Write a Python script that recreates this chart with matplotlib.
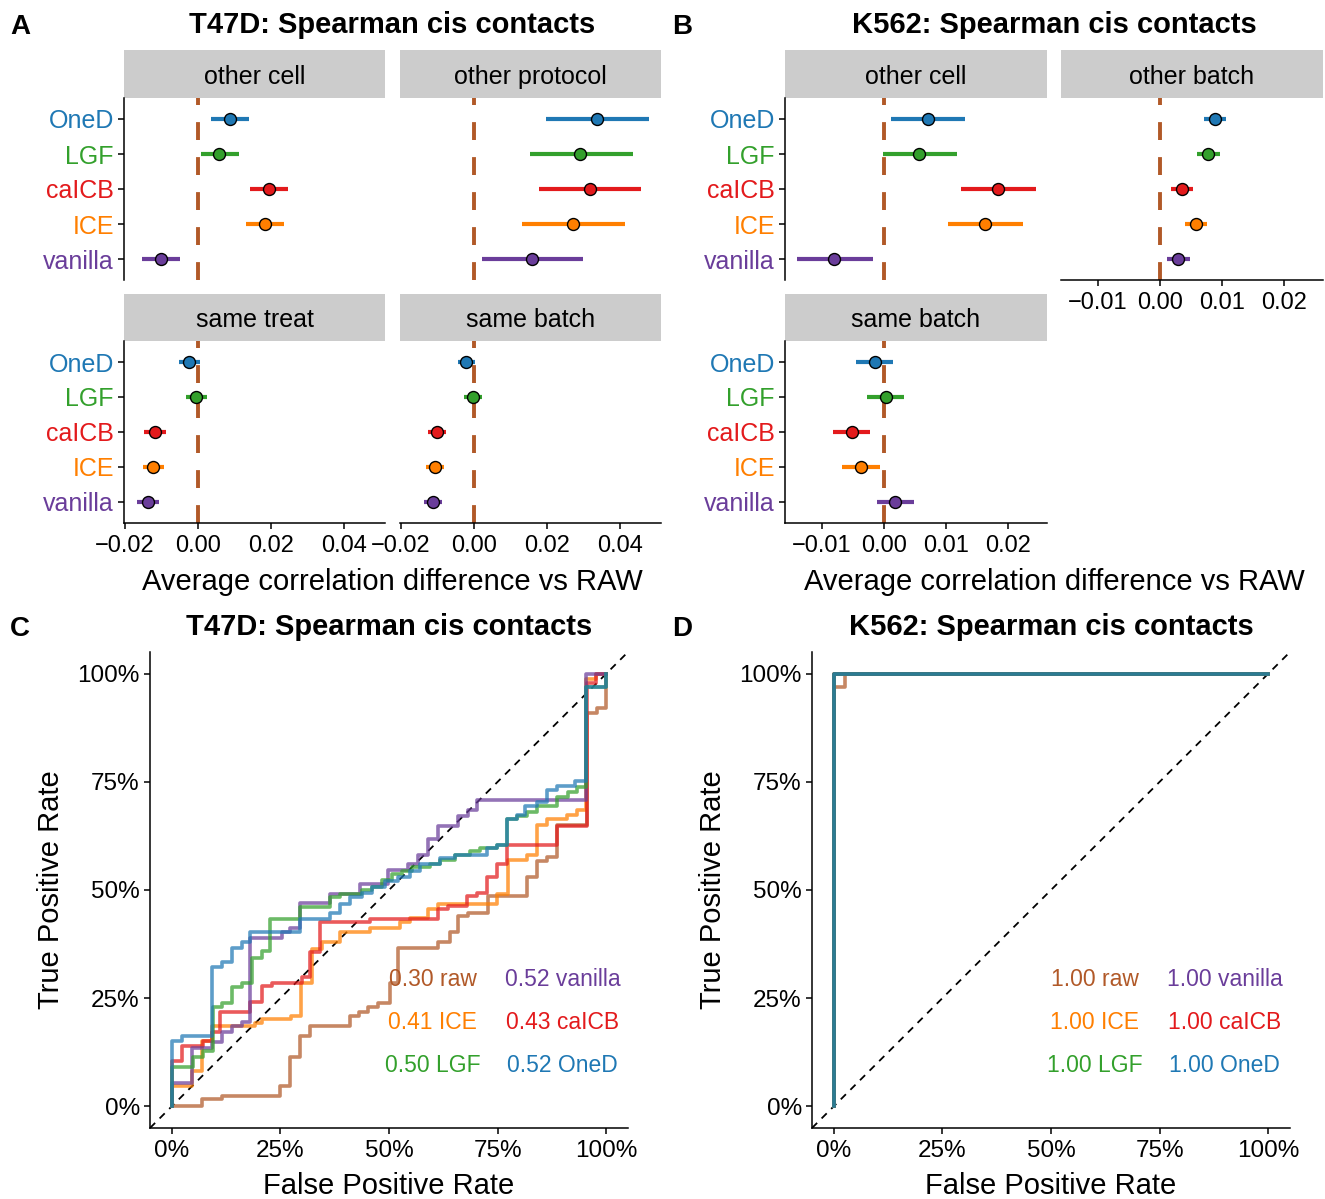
import matplotlib
matplotlib.use('Agg')
import matplotlib.pyplot as plt

plt.rcParams['font.family'] = ['Liberation Sans', 'DejaVu Sans']
plt.rcParams['axes.unicode_minus'] = True

W, H = 1325, 1199
fig = plt.figure(figsize=(W / 100, H / 100), dpi=100)

# ---------------- data ----------------
methods = ['OneD', 'LGF', 'caICB', 'ICE', 'vanilla']   # top -> bottom
method_colors = ['#1F78B4', '#33A02C', '#E31A1C', '#FF7F00', '#6A3D9A']
raw_color = '#B15928'

# Panel A (T47D)
A_other_cell_mean = [0.0088, 0.0058, 0.0195, 0.0184, -0.0101]
A_other_cell_lo = [0.0036, 0.0008, 0.0142, 0.0132, -0.0153]
A_other_cell_hi = [0.0140, 0.0112, 0.0247, 0.0236, -0.0049]

A_other_protocol_mean = [0.0337, 0.0290, 0.0318, 0.0271, 0.0159]
A_other_protocol_lo = [0.0197, 0.0153, 0.0178, 0.0132, 0.0022]
A_other_protocol_hi = [0.0479, 0.0436, 0.0458, 0.0414, 0.0299]

A_same_treat_mean = [-0.0025, -0.0005, -0.0118, -0.0123, -0.0137]
A_same_treat_lo = [-0.0052, -0.0032, -0.0147, -0.0152, -0.0168]
A_same_treat_hi = [0.0005, 0.0025, -0.0087, -0.0092, -0.0106]

A_same_batch_mean = [-0.0022, -0.0003, -0.0101, -0.0107, -0.0112]
A_same_batch_lo = [-0.0045, -0.0027, -0.0125, -0.0131, -0.0136]
A_same_batch_hi = [0.0002, 0.0021, -0.0077, -0.0083, -0.0088]

# Panel B (K562)
B_other_cell_mean = [0.0071, 0.0056, 0.0184, 0.0163, -0.0081]
B_other_cell_lo = [0.0011, -0.0002, 0.0124, 0.0103, -0.0140]
B_other_cell_hi = [0.0131, 0.0118, 0.0245, 0.0224, -0.0018]

B_other_batch_mean = [0.0089, 0.0077, 0.0035, 0.0058, 0.0029]
B_other_batch_lo = [0.0071, 0.0059, 0.0017, 0.0040, 0.0011]
B_other_batch_hi = [0.0107, 0.0096, 0.0054, 0.0076, 0.0049]

B_same_batch_mean = [-0.0015, 0.0003, -0.0052, -0.0037, 0.0018]
B_same_batch_lo = [-0.0045, -0.0027, -0.0082, -0.0067, -0.0012]
B_same_batch_hi = [0.0015, 0.0033, -0.0022, -0.0006, 0.0048]

A_xticks = [-0.02, 0.00, 0.02, 0.04]
B_xticks = [-0.01, 0.00, 0.01, 0.02]

# Panel C (T47D ROC) - step curves (FPR, TPR)
C_raw_fpr = [0, 0.069, 0.115, 0.249, 0.272, 0.295, 0.318, 0.410, 0.431, 0.452, 0.475, 0.502, 0.521,
             0.613, 0.641, 0.659, 0.682, 0.728, 0.818, 0.841, 0.864, 0.887, 0.956, 0.979, 1.0]
C_raw_tpr = [0, 0.016, 0.025, 0.048, 0.113, 0.162, 0.185, 0.208, 0.219, 0.229, 0.240, 0.286, 0.367,
             0.379, 0.402, 0.439, 0.448, 0.485, 0.531, 0.566, 0.577, 0.651, 0.910, 0.921, 1.0]

C_ICE_fpr = [0, 0, 0.046, 0.069, 0.092, 0.191, 0.207, 0.274, 0.297, 0.323, 0.346, 0.387, 0.456, 0.525,
             0.548, 0.590, 0.613, 0.749, 0.774, 0.818, 0.841, 0.864, 0.910, 0.933, 0.954, 0.977, 1.0]
C_ICE_tpr = [0, 0.046, 0.081, 0.150, 0.185, 0.192, 0.201, 0.208, 0.286, 0.363, 0.379, 0.402, 0.413, 0.425,
             0.436, 0.455, 0.467, 0.490, 0.570, 0.582, 0.651, 0.663, 0.674, 0.686, 0.988, 1.0, 1.0]

C_caICB_fpr = [0, 0, 0.023, 0.071, 0.092, 0.111, 0.180, 0.207, 0.230, 0.300, 0.318, 0.341, 0.456, 0.613,
               0.636, 0.680, 0.703, 0.726, 0.749, 0.772, 0.887, 0.956, 0.977, 1.0]
C_caICB_tpr = [0, 0.104, 0.139, 0.150, 0.171, 0.217, 0.242, 0.277, 0.286, 0.298, 0.356, 0.425, 0.432, 0.455,
               0.462, 0.485, 0.494, 0.531, 0.559, 0.605, 0.647, 0.979, 1.0, 1.0]

C_LGF_fpr = [0, 0, 0.048, 0.071, 0.094, 0.115, 0.138, 0.161, 0.184, 0.207, 0.226, 0.295, 0.364, 0.387,
             0.438, 0.461, 0.484, 0.507, 0.530, 0.553, 0.594, 0.618, 0.652, 0.687, 0.710, 0.749, 0.772,
             0.795, 0.818, 0.841, 0.887, 0.912, 0.933, 0.954, 1.0]
C_LGF_tpr = [0, 0.092, 0.115, 0.127, 0.229, 0.240, 0.275, 0.286, 0.344, 0.358, 0.434, 0.460, 0.483, 0.490,
             0.501, 0.508, 0.524, 0.536, 0.543, 0.552, 0.559, 0.570, 0.582, 0.589, 0.598, 0.605, 0.663,
             0.672, 0.681, 0.693, 0.716, 0.727, 0.739, 0.968, 1.0]

C_vanilla_fpr = [0, 0, 0.046, 0.092, 0.115, 0.138, 0.161, 0.180, 0.253, 0.272, 0.295, 0.364, 0.433, 0.498,
                 0.544, 0.567, 0.590, 0.613, 0.659, 0.682, 0.703, 0.954, 1.0]
C_vanilla_tpr = [0, 0.055, 0.136, 0.148, 0.171, 0.185, 0.194, 0.390, 0.402, 0.413, 0.471, 0.490, 0.513, 0.547,
                 0.559, 0.582, 0.617, 0.649, 0.672, 0.686, 0.709, 1.0, 1.0]

C_OneD_fpr = [0, 0, 0.023, 0.092, 0.115, 0.138, 0.161, 0.180, 0.295, 0.364, 0.387, 0.410, 0.438, 0.461,
              0.491, 0.521, 0.548, 0.571, 0.618, 0.652, 0.726, 0.749, 0.772, 0.795, 0.813, 0.841, 0.864,
              0.887, 0.929, 0.954, 1.0]
C_OneD_tpr = [0, 0.150, 0.162, 0.321, 0.333, 0.367, 0.379, 0.402, 0.432, 0.448, 0.467, 0.483, 0.494, 0.508,
              0.520, 0.531, 0.543, 0.561, 0.575, 0.582, 0.596, 0.605, 0.663, 0.674, 0.693, 0.704, 0.732,
              0.741, 0.753, 0.968, 1.0]

# Panel D (K562 ROC)
D_raw_fpr = [0, 0, 0.025, 1.0]
D_raw_tpr = [0, 0.97, 1.0, 1.0]
D_method_fpr = [0, 0, 1.0]
D_method_tpr = [0, 1.0, 1.0]

auc_labels = ['raw', 'vanilla', 'ICE', 'caICB', 'LGF', 'OneD']
auc_colors = [raw_color, '#6A3D9A', '#FF7F00', '#E31A1C', '#33A02C', '#1F78B4']
C_auc = [0.30, 0.52, 0.41, 0.43, 0.50, 0.52]
D_auc = [1.00, 1.00, 1.00, 1.00, 1.00, 1.00]

roc_ticks = [0, 0.25, 0.5, 0.75, 1.0]
roc_ticklabels = ['0%', '25%', '50%', '75%', '100%']

# ---------------- helpers ----------------
STRIP = '#CCCCCC'
TICK_FS = 17
SPINE_LW = 1.1


def add_ax(l, t, r, b):
    return fig.add_axes([l / W, 1 - b / H, (r - l) / W, (b - t) / H])


def fmt(v):
    s = f"{v:.2f}"
    return s.replace('-', '\u2212')


def facet(l, r, ts, t, b, label, mean, lo, hi, xlim, xticks, show_y, show_x):
    s = add_ax(l, ts, r, t)
    s.set_facecolor(STRIP)
    s.set_xticks([]); s.set_yticks([])
    for sp in s.spines.values():
        sp.set_visible(False)
    s.text(0.5, 0.44, label, ha='center', va='center', fontsize=18, transform=s.transAxes)

    ax = add_ax(l, t, r, b)
    ax.set_xlim(*xlim)
    ax.set_ylim(0.4, 5.6)
    ax.plot([0, 0], [0.4, 5.6], color=raw_color, lw=2.8, ls=(0, (4.6, 4.4)), zorder=1,
            solid_capstyle='butt', dash_capstyle='butt')
    ys = [5, 4, 3, 2, 1]
    for i in range(5):
        ax.hlines(ys[i], lo[i], hi[i], color=method_colors[i], lw=3.0, zorder=2)
        ax.scatter([mean[i]], [ys[i]], s=74, color=method_colors[i], edgecolors='black',
                   linewidths=1.0, zorder=3)
    for k in ['top', 'right']:
        ax.spines[k].set_visible(False)
    ax.spines['left'].set_visible(show_y)
    ax.spines['bottom'].set_visible(show_x)
    for k in ['left', 'bottom']:
        ax.spines[k].set_linewidth(SPINE_LW)
    if show_y:
        ax.set_yticks(ys)
        ax.set_yticklabels(methods, fontsize=18)
        for tl, c in zip(ax.get_yticklabels(), method_colors):
            tl.set_color(c)
        ax.tick_params(axis='y', length=4.3, width=SPINE_LW, pad=3)
    else:
        ax.set_yticks([])
    if show_x:
        ax.set_xticks(xticks)
        ax.set_xticklabels([fmt(v) for v in xticks], fontsize=TICK_FS)
        ax.tick_params(axis='x', length=4.3, width=SPINE_LW, pad=4)
    else:
        ax.set_xticks([])
    ax.patch.set_alpha(0)
    return ax


# ---------------- Panel A ----------------
A_xlim = (-0.02027, 0.05123)
facet(124, 385, 50, 98, 280, 'other cell', A_other_cell_mean, A_other_cell_lo, A_other_cell_hi,
      A_xlim, A_xticks, True, False)
facet(400, 661, 50, 98, 280, 'other protocol', A_other_protocol_mean, A_other_protocol_lo,
      A_other_protocol_hi, A_xlim, A_xticks, False, False)
facet(124, 385, 294, 341, 523, 'same treat', A_same_treat_mean, A_same_treat_lo, A_same_treat_hi,
      A_xlim, A_xticks, True, True)
facet(400, 661, 294, 341, 523, 'same batch', A_same_batch_mean, A_same_batch_lo, A_same_batch_hi,
      A_xlim, A_xticks, False, True)

# ---------------- Panel B ----------------
B_xlim = (-0.01597, 0.02629)
facet(785, 1047, 50, 98, 280, 'other cell', B_other_cell_mean, B_other_cell_lo, B_other_cell_hi,
      B_xlim, B_xticks, True, False)
facet(1061, 1323, 50, 98, 280, 'other batch', B_other_batch_mean, B_other_batch_lo, B_other_batch_hi,
      B_xlim, B_xticks, False, True)
facet(785, 1047, 294, 341, 523, 'same batch', B_same_batch_mean, B_same_batch_lo, B_same_batch_hi,
      B_xlim, B_xticks, True, True)


# ---------------- ROC panels ----------------
def roc_axes(l, t, r, b):
    ax = add_ax(l, t, r, b)
    ax.set_xlim(-0.05, 1.05)
    ax.set_ylim(-0.05, 1.05)
    ax.plot([-0.05, 1.05], [-0.05, 1.05], color='black', lw=1.3, ls=(0, (4, 3.5)), zorder=1)
    for k in ['top', 'right']:
        ax.spines[k].set_visible(False)
    for k in ['left', 'bottom']:
        ax.spines[k].set_linewidth(SPINE_LW)
    ax.set_xticks(roc_ticks)
    ax.set_xticklabels(roc_ticklabels, fontsize=17.5)
    ax.set_yticks(roc_ticks)
    ax.set_yticklabels(roc_ticklabels, fontsize=17.5, va='center_baseline')
    ax.tick_params(axis='x', length=4.3, width=SPINE_LW, pad=4)
    ax.tick_params(axis='y', length=4.3, width=SPINE_LW, pad=3)
    ax.patch.set_alpha(0)
    return ax


def auc_text(ax, aucs):
    pos = [(0.6, 0.3), (0.9, 0.3), (0.6, 0.2), (0.9, 0.2), (0.6, 0.1), (0.9, 0.1)]
    for (x, y), a, lab, c in zip(pos, aucs, auc_labels, auc_colors):
        ax.text(x, y, f"{a:.2f} {lab}", color=c, fontsize=16.5, ha='center', va='center_baseline')


LW_ROC = 2.6
ALPHA = 0.72
axC = roc_axes(150, 652, 628, 1128)
axC.step(C_raw_fpr, C_raw_tpr, where='post', color=raw_color, lw=LW_ROC, alpha=ALPHA)
axC.step(C_ICE_fpr, C_ICE_tpr, where='post', color='#FF7F00', lw=LW_ROC, alpha=ALPHA)
axC.step(C_caICB_fpr, C_caICB_tpr, where='post', color='#E31A1C', lw=LW_ROC, alpha=ALPHA)
axC.step(C_vanilla_fpr, C_vanilla_tpr, where='post', color='#6A3D9A', lw=LW_ROC, alpha=ALPHA)
axC.step(C_LGF_fpr, C_LGF_tpr, where='post', color='#33A02C', lw=LW_ROC, alpha=ALPHA)
axC.step(C_OneD_fpr, C_OneD_tpr, where='post', color='#1F78B4', lw=LW_ROC, alpha=ALPHA)
auc_text(axC, C_auc)

axD = roc_axes(812, 652, 1290, 1128)
axD.step(D_raw_fpr, D_raw_tpr, where='post', color=raw_color, lw=LW_ROC, alpha=ALPHA)
for c in ['#FF7F00', '#E31A1C', '#6A3D9A', '#33A02C', '#1F78B4']:
    axD.step(D_method_fpr, D_method_tpr, where='post', color=c, lw=LW_ROC, alpha=ALPHA)
auc_text(axD, D_auc)


# ---------------- texts ----------------
def ftext(x, y, s, **kw):
    fig.text(x / W, 1 - y / H, s, ha=kw.pop('ha', 'center'), va=kw.pop('va', 'center'), **kw)


ftext(20, 27, 'A', fontsize=20, fontweight='bold')
ftext(682, 27, 'B', fontsize=20, fontweight='bold')
ftext(20, 629, 'C', fontsize=20, fontweight='bold')
ftext(682, 629, 'D', fontsize=20, fontweight='bold')

ftext(392, 25, 'T47D: Spearman cis contacts', fontsize=21, fontweight='bold')
ftext(1054, 25, 'K562: Spearman cis contacts', fontsize=21, fontweight='bold')
ftext(389, 627, 'T47D: Spearman cis contacts', fontsize=21, fontweight='bold')
ftext(1051, 627, 'K562: Spearman cis contacts', fontsize=21, fontweight='bold')

ftext(392, 582, 'Average correlation difference vs RAW', fontsize=21)
ftext(1054, 582, 'Average correlation difference vs RAW', fontsize=21)

ftext(389, 1186, 'False Positive Rate', fontsize=21)
ftext(1051, 1186, 'False Positive Rate', fontsize=21)
ftext(51, 890, 'True Positive Rate', fontsize=21, rotation=90)
ftext(713, 890, 'True Positive Rate', fontsize=21, rotation=90)

fig.savefig('out.png', dpi=100)
